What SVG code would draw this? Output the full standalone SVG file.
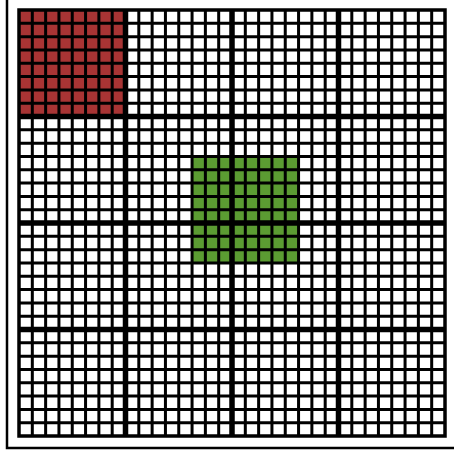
<svg xmlns="http://www.w3.org/2000/svg" width="454" height="453" viewBox="0 0 454 453">
<style>
.thin{stroke:#000;stroke-width:3;fill:none}
.thick{stroke:#000;stroke-width:5.5;fill:none}
</style>
<rect x="0" y="0" width="454" height="453" fill="#fff"/>
<path d="M7,0 V448 H454" fill="none" stroke="#000" stroke-width="2.5"/>
<g id="red-block"><rect x="19" y="10" width="106.5" height="106.5" fill="#a83434"/></g>
<g id="green-block"><rect x="192.06" y="156.44" width="106.5" height="106.5" fill="#5b9c32"/></g>
<g id="grid">
<path class="thin" d="M32.31,10V436M45.63,10V436M58.94,10V436M72.25,10V436M85.56,10V436M98.88,10V436M112.19,10V436M138.81,10V436M152.13,10V436M165.44,10V436M178.75,10V436M192.06,10V436M205.38,10V436M218.69,10V436M245.31,10V436M258.63,10V436M271.94,10V436M285.25,10V436M298.56,10V436M311.88,10V436M325.19,10V436M351.81,10V436M365.13,10V436M378.44,10V436M391.75,10V436M405.06,10V436M418.38,10V436M431.69,10V436"/>
<path class="thin" d="M19,23.31H445M19,36.63H445M19,49.94H445M19,63.25H445M19,76.56H445M19,89.88H445M19,103.19H445M19,129.81H445M19,143.13H445M19,156.44H445M19,169.75H445M19,183.06H445M19,196.38H445M19,209.69H445M19,236.31H445M19,249.63H445M19,262.94H445M19,276.25H445M19,289.56H445M19,302.88H445M19,316.19H445M19,342.81H445M19,356.13H445M19,369.44H445M19,382.75H445M19,396.06H445M19,409.38H445M19,422.69H445"/>
<path class="thick" d="M125.5,10V436M232,10V436M338.5,10V436M19,116.5H445M19,223H445M19,329.5H445"/>
<rect x="19" y="10" width="426" height="426" fill="none" stroke="#000" stroke-width="3.5"/>
</g>
</svg>
